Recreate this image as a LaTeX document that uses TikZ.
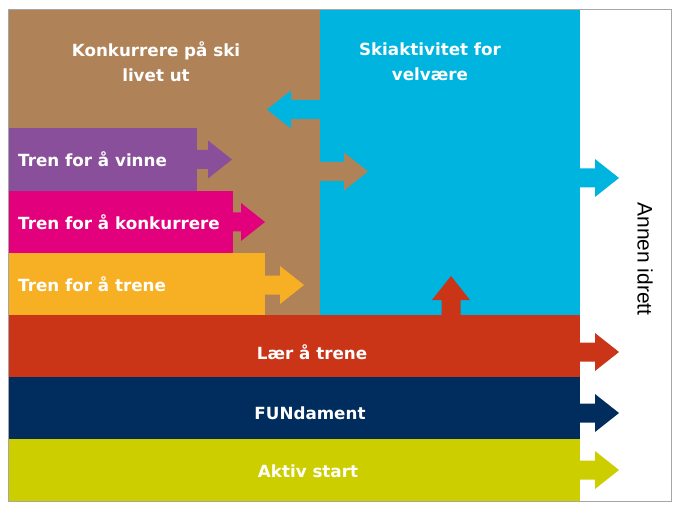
\documentclass[tikz,border=0pt]{standalone}
\usepackage{fontspec}
\setmainfont{DejaVu Sans}
\newfontfamily\sidefont{Liberation Sans}
\usetikzlibrary{positioning}
\definecolor{skibrown}{RGB}{176,130,88}
\definecolor{skiblue}{RGB}{0,180,224}
\definecolor{skipurple}{RGB}{138,79,155}
\definecolor{skimagenta}{RGB}{227,0,125}
\definecolor{skiorange}{RGB}{247,176,36}
\definecolor{skired}{RGB}{202,52,23}
\definecolor{skinavy}{RGB}{0,45,93}
\definecolor{skilime}{RGB}{204,206,0}
% fat arrow: colour, x, y, angle, shaft length
\newcommand{\skiarrow}[5]{%
  \fill[#1, shift={(#2,#3)}, rotate=#4]
    (0,-9.5) -- (#5,-9.5) -- (#5,-19) -- ({#5+24},0) -- (#5,19) -- (#5,9.5) -- (0,9.5) -- cycle;}

\begin{document}
\begin{tikzpicture}[
  x=1bp, y=-1bp,
  lbl/.style={text=white, font=\fontsize{16.8}{25}\selectfont\bfseries, align=center, inner sep=0pt},
  side/.style={font=\sidefont\fontsize{21}{25}\selectfont, inner sep=0pt}
]
  \useasboundingbox (0,0) rectangle (680,508);

  % upper stages
  \fill[skibrown] (8,9) rectangle (320,315);
  \fill[skiblue]  (320,9) rectangle (580,315);
  \fill[skipurple]  (8,128) rectangle (197,191);
  \fill[skimagenta] (8,191) rectangle (233,253);
  \fill[skiorange]  (8,253) rectangle (265,315);

  % base stages
  \fill[skired]  (8,315) rectangle (580,377);
  \fill[skinavy] (8,377) rectangle (580,439);
  \fill[skilime] (8,439) rectangle (580,501);

  % arrows
  \skiarrow{skipurple}{192}{159.5}{0}{16}
  \skiarrow{skimagenta}{228}{222}{0}{13}
  \skiarrow{skiorange}{260}{285}{0}{20}
  \skiarrow{skibrown}{315}{171.5}{0}{29}
  \skiarrow{skiblue}{325}{109.5}{180}{34}
  \skiarrow{skiblue}{575}{178}{0}{20}
  \skiarrow{skired}{451}{320}{90}{20}
  \skiarrow{skired}{575}{352}{0}{20}
  \skiarrow{skinavy}{575}{413}{0}{20}
  \skiarrow{skilime}{575}{470}{0}{20}

  \draw[gray!70, line width=0.8bp] (8,9) rectangle (671,501);

  % labels
  \node[lbl] (livet) at (156,62) {Konkurrere på ski\\livet ut};
  \node[lbl] (velvaere) at (430,62) {Skiaktivitet for\\velvære};
  \node[lbl, anchor=west] (vinne) at (18,159.5) {Tren for å vinne};
  \node[lbl, anchor=west] (konk) at (18,222) {Tren for å konkurrere};
  \node[lbl, anchor=west] (trene) at (18,284) {Tren for å trene};
  \node[lbl] (laer) at (312,352) {Lær å trene};
  \node[lbl] (fun) at (310,413) {FUNdament};
  \node[lbl] (aktiv) at (308,471) {Aktiv start};
  \node[side, rotate=-90] (annen) at (645,259) {Annen idrett};
\end{tikzpicture}
\end{document}
